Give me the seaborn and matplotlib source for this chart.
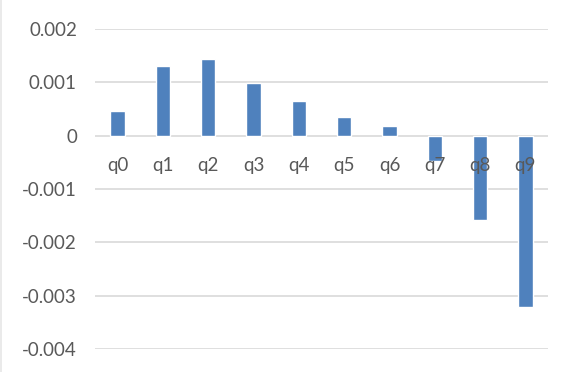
import matplotlib
matplotlib.use("Agg")
import matplotlib.pyplot as plt
from matplotlib.lines import Line2D
import seaborn as sns
import pandas as pd

categories = ["q0", "q1", "q2", "q3", "q4", "q5", "q6", "q7", "q8", "q9"]
values = [0.00046, 0.00131, 0.00144, 0.00099, 0.00065, 0.00035, 0.00018, -0.00048, -0.00158, -0.00321]
y_ticks = [-0.004, -0.003, -0.002, -0.001, 0, 0.001, 0.002]
y_tick_labels = ["-0.004", "-0.003", "-0.002", "-0.001", "0", "0.001", "0.002"]

sns.set_style("white")
plt.rcParams["font.family"] = ["Lato", "DejaVu Sans"]

df = pd.DataFrame({"cat": categories, "val": values})

fig = plt.figure(figsize=(5.76, 3.72), dpi=100)
ax = fig.add_axes([95 / 576, 1 - 349 / 372, 453 / 576, 320 / 372])

sns.barplot(data=df, x="cat", y="val", color="#4F81BD", saturation=1,
            width=0.32, ax=ax, zorder=2)

ax.set_ylim(-0.004, 0.002)
ax.set_xlim(-0.5, len(categories) - 0.5)
ax.set_yticks(y_ticks)
ax.set_yticklabels(y_tick_labels)
ax.yaxis.grid(True, color="#D9D9D9", linewidth=1.2)
ax.set_axisbelow(True)
ax.xaxis.set_zorder(5)
for s in ax.spines.values():
    s.set_visible(False)
ax.spines["bottom"].set_position(("data", 0))
ax.set_xlabel("")
ax.set_ylabel("")
ax.tick_params(axis="y", length=0, pad=13, labelsize=13.5, labelcolor="#595959")
ax.tick_params(axis="x", length=0, pad=15, labelsize=13.5, labelcolor="#595959")

# faint chart-area border on the left edge
fig.add_artist(Line2D([0.002, 0.002], [0, 1], transform=fig.transFigure,
                      color="#E6E6E6", linewidth=1.2))

fig.savefig("out.png", dpi=100)
